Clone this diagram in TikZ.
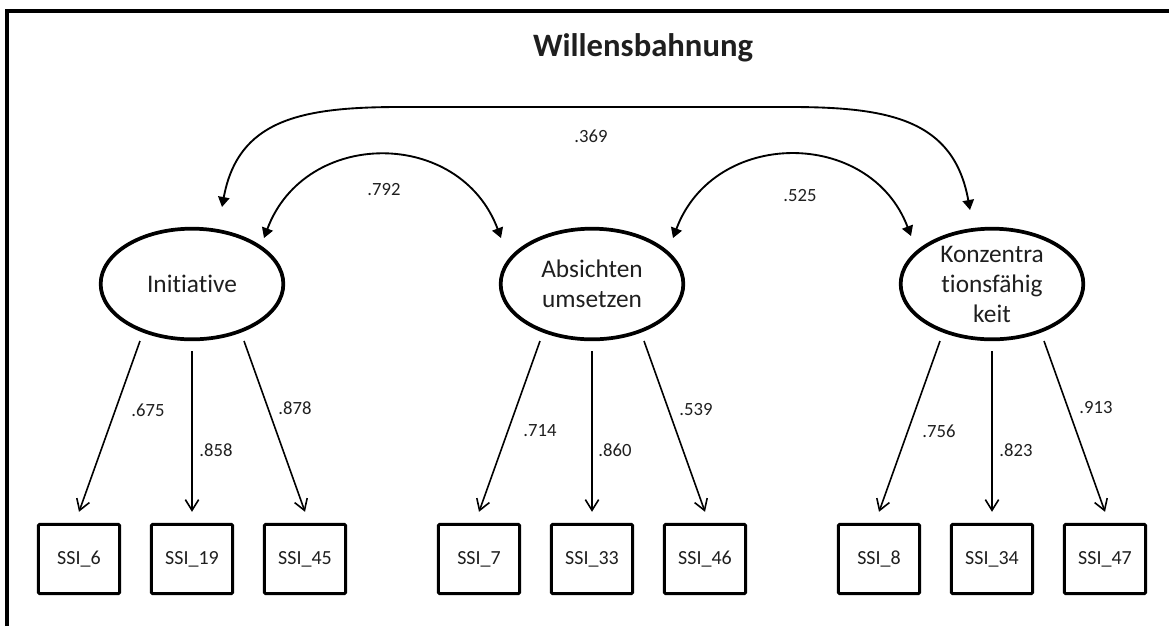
\documentclass[tikz,border=0pt]{standalone}
\usepackage{fontspec}
\setmainfont{Carlito}[Ligatures=NoCommon]
\usetikzlibrary{arrows.meta,calc,shapes.geometric}

\begin{document}
\begin{tikzpicture}[x=0.75pt,y=-0.75pt,
  every node/.style={text=black!88},
  latent/.style={ellipse,draw,line width=2.8pt,minimum width=137pt,minimum height=83pt,
    inner sep=0pt,align=center,font=\fontsize{19}{22.5}\selectfont},
  indicator/.style={draw,line width=2.3pt,rounded corners=1pt,minimum width=61pt,
    minimum height=52pt,inner sep=0pt,font=\fontsize{15}{18}\selectfont},
  loading/.style={line width=1.2pt,-{Straight Barb[length=8pt,width=10pt,line width=1.2pt]}},
  covar/.style={line width=1.4pt,{Triangle[length=7.5pt,width=8.5pt]}-{Triangle[length=7.5pt,width=8.5pt]}},
  coef/.style={font=\fontsize{14}{16}\selectfont,inner sep=1pt},
]
\useasboundingbox (0,0) rectangle (1169,626);

% frame
\draw[line width=2.3pt] (7,626) -- (7,11) -- (1172,11);

% title
\node[font=\bfseries\fontsize{24.5}{28}\selectfont] (title) at (643,48) {Willensbahnung};

% latent factors
\node[latent] (e1) at (192,284) {Initiative};
\node[latent] (e2) at (592,284) {Absichten\\umsetzen};
\node[latent] (e3) at (992,284) {Konzentra\\tionsfähig\\keit};

% indicators
\foreach \name/\x/\lab in {b1/79/SSI\_6, b2/192/SSI\_19, b3/305/SSI\_45,
                           b4/479/SSI\_7, b5/592/SSI\_33, b6/705/SSI\_46,
                           b7/879/SSI\_8, b8/992/SSI\_34, b9/1105/SSI\_47}
  \node[indicator] (\name) at (\x,559) {\lab};

% factor loadings
\foreach \f/\a/\b/\c in {e1/b1/b2/b3, e2/b4/b5/b6, e3/b7/b8/b9}{
  \draw[loading] ($(\f)+(-52,57)$) -- ($(\a.north)+(0,-11)$);
  \draw[loading] ($(\f)+(0,67)$) -- ($(\b.north)+(0,-11)$);
  \draw[loading] ($(\f)+(52,57)$) -- ($(\c.north)+(0,-11)$);
}

\node[coef] at (148,410) {.675};
\node[coef] at (216,450) {.858};
\node[coef] at (295,408) {.878};
\node[coef] at (540,431) {.714};
\node[coef] at (615,450) {.860};
\node[coef] at (696,410) {.539};
\node[coef] at (939,431) {.756};
\node[coef] at (1016,450) {.823};
\node[coef] at (1096,408) {.913};

% correlations between factors
\draw[covar] ($(e1)+(30,-77)$) .. controls (238,120) and (300,107) .. (400,107)
  -- (790,107) .. controls (890,107) and (954,120) .. ($(e3)+(-22,-74)$);
\draw[covar] ($(e1)+(72,-46)$) .. controls (305,128) and (460,128) .. ($(e2)+(-91,-46)$);
\draw[covar] ($(e2)+(81,-46)$) .. controls (714,128) and (870,128) .. ($(e3)+(-81,-48)$);

\node[coef] at (591,136) {.369};
\node[coef] at (384,190) {.792};
\node[coef] at (800,196) {.525};
\end{tikzpicture}
\end{document}
